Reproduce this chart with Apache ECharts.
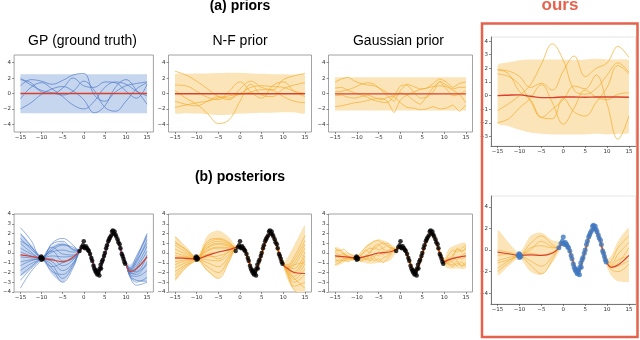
<!DOCTYPE html>
<html>
<head>
<meta charset="UTF-8">
<title>priors / posteriors</title>
<script src="https://cdn.jsdelivr.net/npm/echarts@6/dist/echarts.min.js"></script>
<style>html,body{margin:0;padding:0;background:#fff;}</style>
</head>
<body>
<div id="main" style="width:640px;height:340px;"></div>
<script type="text/javascript">
// 刻度
var xTicks = [-15, -10, -5, 0, 5, 10, 15];
var yTicksPrior = [-4, -2, 0, 2, 4];
var yTicksOurs = [-3, -2, -1, 0, 1, 2, 3, 4];
var yTicksPost = [-4, -3, -2, -1, 0, 1, 2, 3, 4];

// x 网格
var priorX = [-15, -12.5, -10, -7.5, -5, -2.5, 0, 2.5, 5, 7.5, 10, 12.5, 15];
var gaussX = [-15, -13.5, -12, -10.5, -9, -7.5, -6, -4.5, -3, -1.5, 0, 1.5, 3, 4.5, 6, 7.5, 9, 10.5, 12, 13.5, 15];
var postX = [-15, -12.5, -10, -7.5, -5, -2.5, -1, 0, 1, 2, 3, 3.5, 4, 5, 6, 7, 8, 9, 10, 11, 12.5, 15];
var gpostLeftX = [-15, -14, -13, -12, -11, -10, -9, -8, -7, -6, -5, -4, -3, -2];
var gpostRightX = [11, 12, 13, 14, 15];

// (a) GP 先验
var gpMean = [0, 0, 0, 0, 0, 0, 0, 0, 0, 0, 0, 0, 0];
var gpUp = [2.5, 2.5, 2.5, 2.5, 2.5, 2.5, 2.5, 2.5, 2.5, 2.5, 2.5, 2.5, 2.5];
var gpLo = [-2.55, -2.55, -2.55, -2.55, -2.55, -2.55, -2.55, -2.55, -2.55, -2.55, -2.55, -2.55, -2.55];
var gpSamples = [
    [2.0, 1.1, 0.4, 0.1, -0.2, 0.3, 1.6, 0.4, -1.8, -2.3, -1.0, 0.6, 1.4],
    [1.0, 1.8, 1.6, 1.2, 1.7, 2.4, 2.6, -0.2, -1.0, 0.2, 1.0, 1.3, 1.5],
    [-2.0, -1.2, -0.1, 0.6, 0.9, 0.3, -0.8, -2.5, -1.6, 0.8, 1.8, 0.4, -1.4],
    [-0.7, 0.8, 1.4, 0.6, -0.4, -1.5, -2.0, -1.0, 0.8, 1.5, 1.2, 0.3, -0.3],
    [1.8, 1.4, 0.2, 0.0, 0.7, 2.0, 1.0, 0.8, 1.5, 1.4, 0.3, -0.6, 1.2]
];

// N-F 先验
var nfMean = [-0.03, -0.03, -0.03, -0.03, -0.03, -0.03, -0.03, -0.03, -0.03, -0.03, -0.03, -0.03, -0.03];
var nfUp = [2.5, 2.55, 2.6, 2.6, 2.65, 2.7, 2.7, 2.6, 2.55, 2.5, 2.5, 2.45, 2.4];
var nfLo = [-2.5, -2.55, -2.6, -2.7, -2.8, -2.75, -2.6, -2.55, -2.5, -2.5, -2.45, -2.45, -2.5];
var nfSamples = [
    [2.9, 2.4, 1.6, 0.6, -0.4, -0.8, 0.6, 1.6, 0.8, 0.5, 1.8, 2.3, 2.6],
    [0.4, -0.6, -1.4, -2.6, -3.9, -3.4, -1.0, 1.2, -0.2, -0.4, 0.6, 1.1, 1.4],
    [1.1, 1.0, 0.3, -0.5, -0.8, 0.3, 1.5, 0.2, -0.6, 1.0, 1.5, 0.3, -0.4],
    [-1.0, -1.4, -1.6, -1.0, -0.4, -0.6, 0.0, 0.8, 1.0, 0.9, 0.8, 0.3, 0.0],
    [-1.8, -1.5, -1.2, -1.0, -0.6, -0.3, -0.1, 0.2, 0.5, 0.4, -0.4, -1.0, -1.2]
];

// Gaussian 先验
var gaMean = [-0.05, -0.05, -0.05, -0.05, -0.05, -0.05, -0.05, -0.05, -0.05, -0.05, -0.05, -0.05, -0.05];
var gaUp = [2.1, 2.1, 2.1, 2.1, 2.1, 2.1, 2.1, 2.1, 2.1, 2.1, 2.1, 2.1, 2.1];
var gaLo = [-2.2, -2.2, -2.2, -2.2, -2.2, -2.2, -2.2, -2.2, -2.2, -2.2, -2.2, -2.2, -2.2];
var gaSamples = [
    [1.5, 1.9, 2.1, 1.6, 1.3, 1.1, 1.0, 0.6, 0.1, -0.4, -1.2, -1.8, -1.9, -2.1, -2.0, -1.7, -2.0, -1.9, -1.5, -2.3, -1.5],
    [0.2, 0.3, 0.5, 0.8, 1.2, 1.4, 1.2, 0.5, -0.3, -1.0, 0.4, 1.2, 0.9, 0.6, 0.7, 1.3, 1.9, 1.5, 0.8, 1.3, 1.5],
    [-0.3, -0.2, -0.5, -0.6, -0.4, -0.2, -0.5, -0.8, -0.5, -0.3, 1.0, 1.1, 0.2, -0.6, -0.5, 0.2, 1.6, 1.1, 0.6, 0.8, 0.8],
    [-1.7, -1.6, -1.4, -1.2, -1.1, -0.9, -0.7, -0.6, -1.0, -2.5, -0.8, -0.2, 0.2, 0.5, 0.7, 0.9, 1.0, 0.9, 0.4, -0.1, -1.2],
    [0.7, 0.8, 0.4, 0.1, -0.2, -0.5, -0.9, -1.1, -1.2, -0.4, 0.1, -0.2, -0.9, -1.4, -0.4, 0.8, 1.5, 0.6, -0.3, -0.1, 0.4]
];

// ours 先验
var ourMean = [0.0, 0.03, 0.05, -0.05, -0.15, -0.15, -0.1, -0.1, -0.12, -0.1, -0.1, -0.1, -0.12];
var ourUp = [2.2, 2.45, 2.6, 2.65, 2.65, 2.65, 2.65, 2.6, 2.65, 2.7, 2.65, 2.65, 2.6];
var ourLo = [-2.0, -2.25, -2.5, -2.7, -2.8, -2.85, -2.85, -2.85, -2.85, -2.8, -2.85, -2.8, -2.7];
var ourSamples = [
    [-1.1, -0.6, 0.0, 0.8, 2.3, 3.8, 2.6, 0.4, 0.1, 0.5, 1.5, 2.4, 1.7],
    [1.9, 1.8, 1.4, 0.6, 0.9, 0.4, 1.8, 2.9, 1.4, 2.0, 2.4, 3.6, 2.8],
    [1.6, 1.4, 0.8, -0.4, -1.6, -1.0, -0.3, 0.7, 0.5, 1.5, -0.6, -3.2, -1.5],
    [-2.0, -1.7, -0.9, -0.2, 0.8, -0.5, -2.1, -0.9, 0.4, -0.1, -0.3, 0.1, 0.2],
    [1.9, 1.6, 0.3, -0.3, -1.6, -1.7, -0.2, -1.2, -1.5, -0.5, 0.6, 2.2, 1.6]
];

// (b) 观测点
var obsX = [-10.3, -10.1, -10.0, -9.9, -9.7, -1.0, -0.5, -0.2, 0.0, 0.1, 0.3, 0.5, 0.8, 1.0, 1.2,
    1.5, 1.8, 2.0, 2.3, 2.5, 2.7, 2.9, 3.0, 3.2, 3.4, 3.5, 3.7, 3.8, 4.0, 4.1, 4.3, 4.5, 4.8, 5.0, 5.3,
    5.5, 5.8, 6.0, 6.2, 6.5, 6.7, 6.9, 7.1, 7.3, 7.5, 7.7, 8.0, 8.2, 8.5, 8.7, 9.0, 9.2, 9.4, 9.6, 9.8];
var obsY = [-0.5, -0.35, -0.7, -0.45, -0.6, 0.2, 0.6, 0.8, 1.2, 0.6, 0.5, 0.7, 0.5, 0.3, 0.2,
    -0.1, -0.5, -0.8, -1.3, -1.6, -1.8, -2.0, -1.8, -2.2, -2.1, -1.9, -2.3, -1.6, -1.2, -1.6, -0.9, -0.7, -0.3, 0.0, 0.5,
    0.8, 1.2, 1.4, 1.6, 1.8, 2.2, 2.3, 2.0, 2.2, 1.9, 1.7, 1.4, 1.1, 0.9, 0.5, -0.1, -0.3, -0.6, -0.9, -1.1];

// GP 后验
var gpPostMean = [-0.2, -0.35, -0.55, -0.7, -0.9, -0.4, 0.2, 0.7, 0.4, -0.8, -1.9, -2.0, -1.5, -0.1, 1.3, 2.0, 1.4, 0.0, -1.1, -1.9, -1.6, -0.4];
var gpPostUp = [1.9, 0.9, -0.35, 0.7, 1.1, 0.5, 0.5, 0.85, 0.55, -0.65, -1.75, -1.85, -1.35, 0.05, 1.45, 2.15, 1.55, 0.15, -0.85, -1.2, -0.3, 2.0];
var gpPostLo = [-2.3, -1.6, -0.75, -2.2, -3.0, -1.4, -0.1, 0.55, 0.25, -0.95, -2.05, -2.15, -1.65, -0.25, 1.15, 1.85, 1.25, -0.15, -1.35, -2.6, -2.9, -2.8];
var gpPostLeft = [
    [2.6, 1.3, -0.45, 0.2, -0.8, -0.6], [2.0, 0.7, -0.5, 1.0, 1.5, 0.8], [1.5, 0.4, -0.5, -1.2, -2.6, -1.3],
    [1.0, 0.1, -0.55, 0.5, 0.9, 0.4], [0.5, -0.1, -0.55, -0.6, -1.3, -0.7], [0.1, -0.3, -0.6, 0.9, 1.2, 0.3],
    [-0.4, -0.5, -0.6, -1.6, -3.0, -1.5], [-0.9, -0.7, -0.6, 0.1, 0.3, 0.1], [-1.3, -0.8, -0.6, -0.9, -1.8, -1.0],
    [-1.8, -1.1, -0.65, -0.3, -0.4, -0.3], [-2.3, -1.4, -0.65, -1.9, -2.2, -1.1], [-3.6, -1.9, -0.7, 0.6, -0.1, -0.2],
    [1.2, 0.6, -0.45, -1.4, -1.0, -0.5], [-2.8, -1.6, -0.6, 0.3, 0.8, 0.6]
];
var gpPostRight = [
    [-2.3, -2.8, -2.9], [-1.6, -0.6, 2.0], [-2.1, -2.0, -1.2], [-1.7, -1.0, 1.4], [-2.4, -3.0, -2.5],
    [-1.8, -1.3, 0.7], [-2.0, -1.7, -0.4], [-1.5, -0.3, 1.7], [-2.2, -2.4, -1.8], [-1.9, -1.5, 0.2],
    [-2.0, -2.2, -0.9], [-1.7, -0.8, 1.0], [-2.5, -3.3, -3.0], [-1.8, -1.9, -0.2]
];

// N-F 后验
var nfPostMean = [-0.5, -0.55, -0.6, -0.25, 0.1, 0.35, 0.55, 0.7, 0.4, -0.8, -1.9, -2.0, -1.5, -0.1, 1.3, 2.0, 1.4, 0.0, -1.2, -1.6, -2.0, -2.1];
var nfPostUp = [1.6, 0.5, -0.4, 1.8, 2.3, 1.6, 0.8, 0.85, 0.55, -0.65, -1.75, -1.85, -1.35, 0.05, 1.45, 2.15, 1.55, 0.15, -0.95, -0.4, 0.8, 2.9];
var nfPostLo = [-2.8, -1.6, -0.8, -1.9, -2.6, -1.0, 0.3, 0.55, 0.25, -0.95, -2.05, -2.15, -1.65, -0.25, 1.15, 1.85, 1.25, -0.15, -1.45, -2.8, -3.8, -4.6];
var nfPostLeft = [
    [1.7, 0.6, -0.4, 1.0, 1.4, 1.0], [1.2, 0.3, -0.45, 0.8, 1.2, 0.9], [0.8, 0.1, -0.5, 0.6, 1.0, 0.8],
    [0.4, -0.1, -0.5, 0.5, 0.9, 0.7], [0.0, -0.3, -0.55, 0.2, 0.5, 0.5], [-0.3, -0.4, -0.55, -0.1, 0.1, 0.3],
    [-0.6, -0.5, -0.6, -0.4, -0.3, 0.1], [-0.9, -0.7, -0.6, -0.7, -0.8, -0.1], [-1.2, -0.8, -0.65, -1.0, -1.4, -0.3],
    [-1.5, -1.0, -0.65, -1.4, -2.0, -0.5], [-1.9, -1.2, -0.7, -1.8, -2.6, -0.8], [-2.3, -1.3, -0.7, 0.3, 0.6, 0.6],
    [-2.7, -1.5, -0.75, -0.2, -0.6, 0.2], [1.0, 0.4, -0.5, 1.2, 1.5, 1.1]
];
var nfPostRight = [
    [-1.2, -0.4, 1.8], [-1.3, -0.7, 1.3], [-1.4, -1.0, 0.9], [-1.5, -1.3, 0.5], [-1.6, -1.6, 0.1],
    [-1.7, -1.9, -0.3], [-1.7, -2.1, -0.7], [-1.8, -2.4, -1.1], [-1.9, -2.7, -1.6], [-2.0, -3.0, -2.2],
    [-2.1, -3.4, -3.0], [-2.3, -3.8, -4.5], [-1.5, -1.2, -1.0], [-1.8, -2.6, -3.6]
];

// Gaussian 后验
var gaPostMean = [-0.3, -0.4, -0.5, -0.3, 0.0, 0.1, 0.35, 0.7, 0.4, -0.8, -1.9, -2.0, -1.5, -0.1, 1.3, 2.0, 1.4, 0.0, -0.9, -0.7, -0.5, -0.3];
var gaPostUp = [0.6, 0.1, -0.3, 0.9, 1.4, 1.0, 0.6, 0.85, 0.55, -0.65, -1.75, -1.85, -1.35, 0.05, 1.45, 2.15, 1.55, 0.15, -0.6, 0.4, 0.8, 1.0];
var gaPostLo = [-1.3, -0.9, -0.75, -1.1, -1.0, -0.8, 0.0, 0.55, 0.25, -0.95, -2.05, -2.15, -1.65, -0.25, 1.15, 1.85, 1.25, -0.15, -1.3, -1.6, -1.6, -1.5];
var gaPostLeft = [
    [0.5, 0.2, 0.4, 0.0, -0.2, -0.4, 0.1, 0.6, 0.9, 1.2, 1.3, 0.9, 1.0, 0.6],
    [0.2, 0.3, -0.1, -0.3, -0.5, -0.5, -0.2, 0.2, 0.5, 0.4, 0.8, 1.1, 0.7, 0.5],
    [-0.2, -0.5, -0.2, -0.4, -0.3, -0.5, -0.6, -0.3, 0.1, 0.6, 0.3, 0.5, 0.8, 0.4],
    [-0.5, -0.3, -0.6, -0.5, -0.7, -0.6, -0.4, -0.6, -0.2, -0.4, 0.1, -0.2, 0.2, 0.3],
    [-0.9, -0.7, -0.8, -0.5, -0.6, -0.6, -0.9, -0.6, -0.8, -0.5, -0.9, -0.5, -0.3, 0.1],
    [-1.2, -1.0, -0.7, -0.9, -0.6, -0.55, -0.3, -0.7, -0.4, -0.8, -0.6, -1.0, -0.6, 0.0],
    [0.1, -0.2, 0.0, -0.4, -0.6, -0.5, -0.2, 0.3, 0.0, 0.7, 0.9, 0.4, 0.2, 0.5],
    [-0.6, -0.9, -0.5, -0.7, -0.5, -0.6, -0.8, -0.3, -0.7, 0.0, -0.3, 0.2, -0.1, 0.2]
];
var gaPostRight = [
    [-0.2, 0.3, 0.1, 0.5, 0.8], [-0.6, -0.2, 0.4, 0.2, 0.4], [-0.8, -0.5, -0.7, -0.2, 0.0],
    [-1.0, -0.8, -0.4, -0.6, -0.4], [-1.2, -1.4, -1.0, -1.3, -0.9], [-0.5, -1.0, -1.3, -0.9, -1.4],
    [-0.9, -0.4, 0.5, 0.1, 0.6], [-1.1, -1.2, -0.8, -1.4, -1.1]
];

// ours 后验
var ourPostMean = [-0.2, -0.35, -0.5, -0.45, -0.5, -0.3, 0.2, 0.7, 0.4, -0.8, -1.9, -2.0, -1.5, -0.1, 1.3, 2.0, 1.4, 0.0, -1.2, -1.6, -1.4, -0.5];
var ourPostUp = [1.8, 0.7, -0.2, 1.3, 1.6, 0.9, 0.8, 0.9, 0.6, -0.6, -1.7, -1.8, -1.3, 0.1, 1.5, 2.2, 1.6, 0.2, -0.8, -0.5, 0.8, 2.0];
var ourPostLo = [-2.3, -1.5, -0.8, -2.0, -2.3, -1.2, -0.2, 0.5, 0.2, -1.0, -2.1, -2.2, -1.7, -0.3, 1.1, 1.8, 1.2, -0.2, -1.6, -2.4, -2.9, -3.0];
var ourPostLeft = [
    [0.0, -0.2, -0.4, 0.6, 1.3, 0.5], [-0.5, -0.4, -0.5, 0.2, 0.4, 0.2], [-1.0, -0.7, -0.5, -0.3, -0.5, -0.2],
    [-1.7, -1.0, -0.55, -1.0, -1.5, -0.6], [-2.0, -1.2, -0.6, -1.4, -2.2, -0.9], [-1.2, -0.9, -0.5, 0.0, 0.8, 0.3]
];
var ourPostRight = [
    [-1.0, 0.2, 1.3], [-1.2, -0.4, 0.7], [-1.4, -0.9, -0.6], [-1.6, -1.5, -1.0], [-1.8, -2.0, -1.3], [-1.5, -1.2, 0.2]
];

// 颜色
var BLUE = 'rgba(76,120,198,0.75)', BLUE_BAND = '#c6d6ee';
var ORANGE = 'rgba(242,174,50,0.8)', ORANGE_BAND = '#fbe4b8';
var RED = '#d8402d', OURS = '#e5634d';

function minus(v) { return String(v).replace('-', '\u2212'); }
function pairs(xs, ys) {
    var d = [];
    for (var k = 0; k < xs.length; k++) d.push([xs[k], ys[k]]);
    return d;
}

var panels = [
    { left: 8.4, top: 55, width: 145, height: 77, yMin: -5, yMax: 5, yTicks: yTicksPrior },
    { left: 168.5, top: 55, width: 143, height: 77, yMin: -5, yMax: 5, yTicks: yTicksPrior },
    { left: 328.5, top: 55, width: 144, height: 77, yMin: -5, yMax: 5, yTicks: yTicksPrior },
    { left: 491, top: 37, width: 144.5, height: 109, yMin: -3.7, yMax: 4.3, yTicks: yTicksOurs, ours: true },
    { left: 8.4, top: 214, width: 145, height: 78, yMin: -4, yMax: 4, yTicks: yTicksPost },
    { left: 168.5, top: 214, width: 143, height: 78, yMin: -4, yMax: 4, yTicks: yTicksPost },
    { left: 328.5, top: 214, width: 144, height: 78, yMin: -4, yMax: 4, yTicks: yTicksPost },
    { left: 491, top: 196, width: 144.5, height: 108, yMin: -5, yMax: 5, yTicks: yTicksPrior, ours: true }
];

var grids = [], xAxes = [], yAxes = [], series = [];
panels.forEach(function (p, i) {
    grids.push({
        left: p.left, top: p.top, width: p.width, height: p.height,
        show: true, borderColor: p.ours ? '#e0e0e0' : '#8c8c8c', borderWidth: 0.8
    });
    var lbl = { fontSize: 5.5, fontFamily: 'DejaVu Sans', color: '#333', formatter: minus };
    xAxes.push({
        type: 'value', gridIndex: i, min: -16.5, max: 16.5,
        splitLine: { show: false },
        axisLine: { show: !!p.ours, onZero: false, lineStyle: { color: '#555', width: 0.8 } },
        axisTick: { show: true, customValues: xTicks, length: 2, lineStyle: { color: '#444', width: 0.6 } },
        axisLabel: Object.assign({ customValues: xTicks, margin: 3 }, lbl)
    });
    yAxes.push({
        type: 'value', gridIndex: i, min: p.yMin, max: p.yMax,
        splitLine: { show: false },
        axisLine: { show: !!p.ours, onZero: false, lineStyle: { color: '#555', width: 0.8 } },
        axisTick: { show: true, customValues: p.yTicks, length: 2, lineStyle: { color: '#444', width: 0.6 } },
        axisLabel: Object.assign({ customValues: p.yTicks, margin: 3 }, lbl)
    });
});

// 置信带（多边形，上沿 + 下沿反向）
function band(i, xs, up, lo, color) {
    series.push({
        type: 'custom', xAxisIndex: i, yAxisIndex: i, silent: true, clip: true, z: 1,
        data: [[xs[0], up[0]]],
        renderItem: function (params, api) {
            var pts = [];
            for (var k = 0; k < xs.length; k++) pts.push(api.coord([xs[k], up[k]]));
            for (var k2 = xs.length - 1; k2 >= 0; k2--) pts.push(api.coord([xs[k2], lo[k2]]));
            var mn = [Infinity, Infinity], mx = [-Infinity, -Infinity];
            pts.forEach(function (q) {
                mn[0] = Math.min(mn[0], q[0]); mn[1] = Math.min(mn[1], q[1]);
                mx[0] = Math.max(mx[0], q[0]); mx[1] = Math.max(mx[1], q[1]);
            });
            return {
                type: 'polygon',
                shape: { points: pts, smooth: 0.3, smoothConstraint: [mn, mx] },
                style: { fill: color }
            };
        }
    });
}
function line(i, xs, ys, color, width, z, smooth) {
    series.push({
        type: 'line', xAxisIndex: i, yAxisIndex: i, data: pairs(xs, ys),
        symbol: 'none', smooth: smooth, silent: true, z: z,
        lineStyle: { color: color, width: width }
    });
}
function dots(i, color, size) {
    series.push({
        type: 'scatter', xAxisIndex: i, yAxisIndex: i, data: pairs(obsX, obsY),
        symbolSize: size, silent: true, z: 6,
        itemStyle: { color: color }
    });
}

// (a) 先验
band(0, priorX, gpUp, gpLo, BLUE_BAND);
gpSamples.forEach(function (s) { line(0, priorX, s, BLUE, 0.9, 2, 0.4); });
line(0, priorX, gpMean, RED, 1.4, 4, 0.4);

band(1, priorX, nfUp, nfLo, ORANGE_BAND);
nfSamples.forEach(function (s) { line(1, priorX, s, ORANGE, 0.9, 2, 0.4); });
line(1, priorX, nfMean, RED, 1.4, 4, 0.4);

band(2, priorX, gaUp, gaLo, ORANGE_BAND);
gaSamples.forEach(function (s) { line(2, gaussX, s, ORANGE, 0.9, 2, 0.15); });
line(2, priorX, gaMean, RED, 1.4, 4, 0.4);

band(3, priorX, ourUp, ourLo, ORANGE_BAND);
ourSamples.forEach(function (s) { line(3, priorX, s, ORANGE, 0.9, 2, 0.4); });
line(3, priorX, ourMean, RED, 1.4, 4, 0.4);

// (b) 后验：样本 = 左段 + 数据区(均值) + 右段
function posterior(i, mean, up, lo, left, right, bandColor, color) {
    band(i, postX, up, lo, bandColor);
    left.forEach(function (l, k) {
        line(i, postX, l.concat(mean.slice(6, 19)).concat(right[k]), color, 0.8, 2, 0.4);
    });
    line(i, postX.slice(6, 19), mean.slice(6, 19), color, 2.6, 3, 0.4);
    line(i, postX, mean, RED, 1.2, 4, 0.4);
}
posterior(4, gpPostMean, gpPostUp, gpPostLo, gpPostLeft, gpPostRight, BLUE_BAND, BLUE);
dots(4, '#000', 4.5);
posterior(5, nfPostMean, nfPostUp, nfPostLo, nfPostLeft, nfPostRight, ORANGE_BAND, ORANGE);
dots(5, '#000', 4.5);

band(6, postX, gaPostUp, gaPostLo, ORANGE_BAND);
var gaSampleX = gpostLeftX.concat(postX.slice(6, 19)).concat(gpostRightX);
gaPostLeft.forEach(function (l, k) {
    line(6, gaSampleX, l.concat(gaPostMean.slice(6, 19)).concat(gaPostRight[k]), ORANGE, 0.8, 2, 0.15);
});
line(6, postX.slice(6, 19), gaPostMean.slice(6, 19), ORANGE, 2.6, 3, 0.4);
line(6, postX, gaPostMean, RED, 1.2, 4, 0.4);
dots(6, '#000', 4.5);

posterior(7, ourPostMean, ourPostUp, ourPostLo, ourPostLeft, ourPostRight, ORANGE_BAND, ORANGE);
dots(7, '#3f78c0', 5);

// 标题
var FONT = '"Liberation Sans", Arial, sans-serif';
function text(x, y, str, font, color) {
    return {
        type: 'text', x: x, y: y, z: 20, silent: true,
        style: { text: str, font: font, fill: color || '#000', textAlign: 'center', textVerticalAlign: 'middle', align: 'center', verticalAlign: 'middle' }
    };
}

var chart = echarts.init(document.getElementById('main'));
var option = {
    animation: false,
    backgroundColor: '#fff',
    grid: grids,
    xAxis: xAxes,
    yAxis: yAxes,
    series: series,
    graphic: [
        text(240, 6, '(a) priors', 'bold 14px ' + FONT),
        text(560, 5, 'ours', 'bold 17px ' + FONT, OURS),
        text(82.5, 41, 'GP (ground truth)', '14px ' + FONT),
        text(240, 41, 'N-F prior', '14px ' + FONT),
        text(398.5, 41, 'Gaussian prior', '14px ' + FONT),
        text(240, 177.5, '(b) posteriors', 'bold 14px ' + FONT),
        {
            type: 'rect', z: 20, silent: true,
            shape: { x: 482, y: 23.5, width: 155.5, height: 313.5 },
            style: { fill: 'none', stroke: OURS, lineWidth: 2.5 }
        }
    ]
};
chart.setOption(option);
</script>
</body>
</html>
